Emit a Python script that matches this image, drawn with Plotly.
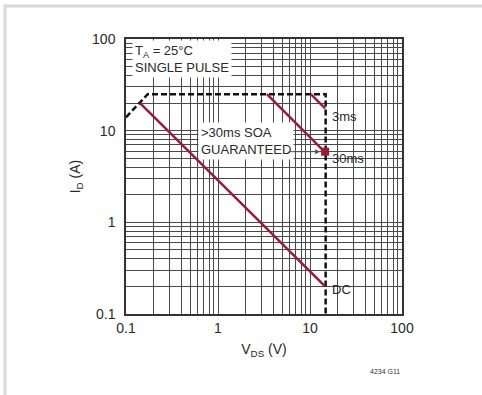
import math
import plotly.graph_objects as go

# ---- data ----
soa_x = [0.1, 0.172, 14.8, 14.8]
soa_y = [14, 25, 25, 0.1]
dc_x = [0.142, 14.6]
dc_y = [20, 0.2]
ms30_x = [3.4, 14.6]
ms30_y = [25, 5.8]
ms3_x = [10.2, 14.6]
ms3_y = [25, 17.5]
marker_x = [14.6]
marker_y = [5.9]

grid_vals = [m * 10 ** e for e in (-1, 0, 1) for m in range(1, 10)] + [100]
decade_labels = {0.1: "0.1", 1: "1", 10: "10", 100: "100"}
tick_text = [decade_labels.get(round(v, 6), "") for v in grid_vals]

RED = "#9a1b33"
TXT = "#2a2a2a"
FONT = "Liberation Sans, Arial, sans-serif"
L = math.log10

fig = go.Figure()
fig.add_trace(go.Scatter(x=soa_x, y=soa_y, mode="lines",
                         line=dict(color="#111111", width=2.5, dash="6px,3px")))
fig.add_trace(go.Scatter(x=dc_x, y=dc_y, mode="lines", line=dict(color=RED, width=2.5)))
fig.add_trace(go.Scatter(x=ms30_x, y=ms30_y, mode="lines", line=dict(color=RED, width=2.5)))
fig.add_trace(go.Scatter(x=ms3_x, y=ms3_y, mode="lines", line=dict(color=RED, width=2.5)))
fig.add_trace(go.Scatter(x=marker_x, y=marker_y, mode="markers",
                         marker=dict(symbol="square", size=8, color=RED)))

axis_common = dict(
    type="log",
    tickvals=grid_vals,
    ticktext=tick_text,
    showgrid=True,
    gridcolor="#4a4a4a",
    gridwidth=1,
    showline=True,
    linecolor="#333333",
    linewidth=1.5,
    mirror=True,
    ticks="",
    zeroline=False,
    tickfont=dict(family=FONT, size=14, color=TXT),
)

fig.update_layout(
    width=482, height=395,
    margin=dict(l=126, r=80, t=39, b=81),
    paper_bgcolor="white", plot_bgcolor="white",
    showlegend=False,
    font=dict(family=FONT, color=TXT, size=13),
    xaxis=dict(axis_common, range=[-1, 2],
               title=dict(text="V<sub>DS</sub> (V)", font=dict(family=FONT, size=14, color=TXT), standoff=10)),
    yaxis=dict(axis_common, range=[-1, 2], ticklabelstandoff=6,
               title=dict(text="I<sub>D</sub> (A)", font=dict(family=FONT, size=14, color=TXT), standoff=8)),
)

anns = [
    dict(x=0.02, y=0.995, xref="paper", yref="paper", xanchor="left", yanchor="top",
         text="T<sub>A</sub> = 25°C<br>SINGLE PULSE", align="left", showarrow=False,
         bgcolor="white", borderpad=2, font=dict(size=13)),
    dict(x=0.26, y=0.70, xref="paper", yref="paper", xanchor="left", yanchor="top",
         text="&gt;30ms SOA<br>GUARANTEED", align="left", showarrow=False,
         bgcolor="white", borderpad=2, font=dict(size=13)),
    dict(x=L(ms30_x[-1]), y=L(marker_y[0]), xref="x", yref="y", text="", showarrow=True,
         ax=-38, ay=0, arrowhead=2, arrowsize=1, arrowwidth=1, arrowcolor="#555555", standoff=5),
    dict(x=L(ms3_x[-1]), y=L(ms3_y[-1]), xref="x", yref="y", text="3ms", showarrow=False,
         xanchor="left", yanchor="top", xshift=5, yshift=1, font=dict(size=13)),
    dict(x=L(ms30_x[-1]), y=L(ms30_y[-1]), xref="x", yref="y", text="30ms", showarrow=False,
         xanchor="left", yanchor="top", xshift=5, yshift=3, font=dict(size=13)),
    dict(x=L(dc_x[-1]), y=L(dc_y[-1]), xref="x", yref="y", text="DC", showarrow=False,
         xanchor="left", yanchor="middle", xshift=5, yshift=-3, font=dict(size=13)),
    dict(x=(385 - 126) / 276, y=(314 - 371) / 275, xref="paper", yref="paper",
         xanchor="center", yanchor="middle",
         text="4234 G11", showarrow=False, font=dict(size=7, color="#333333")),
]
fig.update_layout(annotations=anns)

# light gray page frame (top and left) as thin filled rectangles
fig.add_shape(type="rect", xref="paper", yref="paper", layer="below",
              x0=(4 - 126) / 276, x1=(482 - 126) / 276, y0=(314 - 4.5) / 275, y1=(314 - 7.5) / 275,
              line=dict(width=0), fillcolor="#d9d9d9")
fig.add_shape(type="rect", xref="paper", yref="paper", layer="below",
              x0=(3.5 - 126) / 276, x1=(6.5 - 126) / 276, y0=(314 - 4.5) / 275, y1=(314 - 395) / 275,
              line=dict(width=0), fillcolor="#d9d9d9")

fig.write_html(
    "out.html",
    config={"displayModeBar": False},
    post_script="document.body.style.margin='0px';document.body.style.overflow='hidden';"
                "document.documentElement.style.overflow='hidden';window.scrollTo(0,0);",
)
